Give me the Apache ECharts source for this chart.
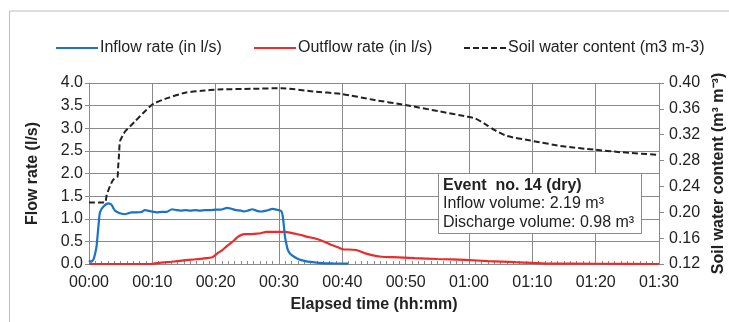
<!DOCTYPE html>
<html><head><meta charset="utf-8">
<script src="https://cdn.jsdelivr.net/npm/echarts@6/dist/echarts.min.js"></script>
<style>html,body{margin:0;padding:0;background:#fff}#c{width:729px;height:322px}</style>
</head><body><div id="c"></div>
<script>
const xTicks = [0,10,20,30,40,50,60,70,80,90];
const inflowTime = [0,0.3,0.7,1.0,1.2,1.5,1.7,2.0,2.3,2.7,3.05,3.3,3.6,3.9,4.1,4.6,5.2,5.7,6.2,6.7,7.5,8.3,8.8,9.3,9.9,10.7,11.5,12.2,13.1,13.8,14.5,15.2,16.0,16.8,17.5,18.3,19.2,20.0,20.8,21.8,22.5,23.2,24.0,24.5,25.1,25.8,26.4,27.1,28.0,29.0,29.6,30.0,30.4,30.6,30.8,30.95,31.2,31.4,31.8,32.5,33.2,34.0,35.0,36.7,38.5,40.9];
const inflowRate = [0.08,0.05,0.1,0.25,0.4,0.85,1.12,1.22,1.27,1.32,1.34,1.33,1.30,1.22,1.18,1.14,1.11,1.10,1.12,1.14,1.14,1.15,1.19,1.18,1.16,1.14,1.15,1.15,1.21,1.19,1.18,1.19,1.18,1.19,1.18,1.19,1.19,1.20,1.20,1.24,1.22,1.19,1.18,1.16,1.18,1.21,1.18,1.16,1.18,1.22,1.20,1.19,1.16,1.05,0.8,0.6,0.42,0.31,0.22,0.15,0.10,0.07,0.045,0.02,0.012,0.01];
const outflowTime = [0,5,9.7,11.3,13,15,16.5,18,19.5,20.0,20.3,21.0,21.8,22.9,23.5,24.5,25.5,26.5,27.1,28.0,29.5,31.0,31.5,32.5,33.5,34.5,35.6,36.7,37.7,38.3,39.3,40.3,41.0,42.2,43.0,43.5,44.5,46.2,48,51.4,55,59.4,63,67.3,70,72.6,80,90];
const outflowRate = [0,0,0,0.03,0.05,0.08,0.10,0.12,0.15,0.2,0.24,0.3,0.40,0.52,0.60,0.66,0.66,0.67,0.68,0.71,0.71,0.71,0.70,0.67,0.64,0.60,0.57,0.52,0.46,0.42,0.37,0.32,0.32,0.31,0.27,0.24,0.2,0.16,0.15,0.13,0.11,0.09,0.065,0.04,0.025,0.01,0.005,0.0];
const soilTime = [0,2.5,2.8,3.3,3.8,4.5,4.6,4.75,4.9,5.7,6.5,7.3,8.8,10.2,12.5,15.2,17.8,20.4,25.7,30.4,35.4,39.9,44.9,49.9,55.4,59.7,61.0,62.8,63.9,66.0,69.7,74.9,79.7,83.9,89.7];
const soilWater = [0.215,0.215,0.227,0.24,0.25,0.255,0.27,0.29,0.31,0.325,0.333,0.341,0.356,0.368,0.377,0.385,0.388,0.390,0.391,0.392,0.387,0.383,0.374,0.366,0.356,0.348,0.345,0.335,0.328,0.318,0.311,0.302,0.297,0.293,0.289];
const leftTicks = [0,0.5,1.0,1.5,2.0,2.5,3.0,3.5,4.0];
const rightTicks = [0.12,0.16,0.20,0.24,0.28,0.32,0.36,0.40];

const zip = (a,b)=>a.map((t,i)=>[t,b[i]]);
const fnt = 'Liberation Sans, Arial, sans-serif';
const grey = '#8a8a8a';
const txt = '#222';
const FS = 16;
const chart = echarts.init(document.getElementById('c'));
const fmt = v => { const m = Math.round(v); return String(Math.floor(m/60)).padStart(2,'0')+':'+String(m%60).padStart(2,'0'); };
const solidIcon = 'path://M0,0h42v2.2h-42z';
const dashIcon = 'path://M0,0h6v2h-6zM9,0h6v2h-6zM18,0h6v2h-6zM27,0h6v2h-6zM36,0h6v2h-6z';
const legendBase = {top:35, itemWidth:42, itemHeight:10, itemGap:0, textStyle:{fontFamily:fnt,fontSize:FS,color:txt,padding:[0,0,0,-3]}};
chart.setOption({
  animation:false,
  textStyle:{fontFamily:fnt},
  legend:[
    Object.assign({}, legendBase, {left:51, data:[{name:'Inflow rate (in l/s)',icon:solidIcon}]}),
    Object.assign({}, legendBase, {left:249, data:[{name:'Outflow rate (in l/s)',icon:solidIcon}]}),
    Object.assign({}, legendBase, {left:459, data:[{name:'Soil water content (m3 m-3)',icon:dashIcon}]})
  ],
  grid:{left:89,right:70,top:83,bottom:58,outerBoundsMode:'none',containLabel:false},
  xAxis:{type:'value',min:xTicks[0],max:xTicks[xTicks.length-1],interval:10,
    name:'Elapsed time (hh:mm)',nameLocation:'middle',nameGap:33,
    nameTextStyle:{fontFamily:fnt,fontSize:FS,fontWeight:'bold',color:txt},
    axisLine:{show:true,lineStyle:{color:grey}},
    axisTick:{show:true,inside:true,length:4,lineStyle:{color:grey}},
    minorTick:{show:true,splitNumber:10,length:3,lineStyle:{color:grey}},
    axisLabel:{fontFamily:fnt,fontSize:FS,color:txt,margin:11,formatter:fmt},
    splitLine:{show:true,lineStyle:{color:grey,width:1}}},
  yAxis:[
    {type:'value',min:leftTicks[0],max:leftTicks[leftTicks.length-1],interval:0.5,
     name:'Flow rate (l/s)',nameLocation:'middle',nameGap:48,
     nameTextStyle:{fontFamily:fnt,fontSize:FS,fontWeight:'bold',color:txt},
     axisLine:{show:true,lineStyle:{color:grey}},
     axisTick:{show:true,length:4,lineStyle:{color:grey}},
     axisLabel:{fontFamily:fnt,fontSize:FS,color:txt,margin:6,formatter:v=>v.toFixed(1)},
     splitLine:{show:true,lineStyle:{color:grey,width:1}}},
    {type:'value',min:rightTicks[0],max:rightTicks[rightTicks.length-1],interval:0.04,
     name:'Soil water content (m³ m⁻³)',nameLocation:'middle',nameGap:51,nameRotate:90,
     nameTextStyle:{fontFamily:fnt,fontSize:FS,fontWeight:'bold',color:txt},
     axisLine:{show:true,lineStyle:{color:grey}},
     axisTick:{show:true,length:5,lineStyle:{color:grey}},
     axisLabel:{fontFamily:fnt,fontSize:FS,color:txt,margin:10,formatter:v=>v.toFixed(2)},
     splitLine:{show:false}}
  ],
  series:[
    {name:'Inflow rate (in l/s)',type:'line',yAxisIndex:0,data:zip(inflowTime,inflowRate),symbol:'none',smooth:0.2,
     lineStyle:{color:'#1a73c5',width:2.2},itemStyle:{color:'#1a73c5'},z:3},
    {name:'Outflow rate (in l/s)',type:'line',yAxisIndex:0,data:zip(outflowTime,outflowRate),symbol:'none',smooth:0.2,
     lineStyle:{color:'#ee2a2a',width:2.2},itemStyle:{color:'#ee2a2a'},z:2},
    {name:'Soil water content (m3 m-3)',type:'line',yAxisIndex:1,data:zip(soilTime,soilWater),symbol:'none',smooth:0.2,
     lineStyle:{color:'#222',width:2,type:[6,3]},itemStyle:{color:'#222'},z:4}
  ],
  graphic:[
    {type:'rect',left:7,top:8.5,shape:{width:800,height:400},style:{fill:'none',stroke:'#bdbdbd',lineWidth:1},z:0,silent:true},
    {type:'rect',left:438,top:173,shape:{width:203,height:60},style:{fill:'#fff',stroke:grey,lineWidth:1},z:10},
    {type:'text',left:443,top:176,z:11,style:{
      text:'{b|Event  no. 14 (dry)}\nInflow volume: 2.19 m³\nDischarge volume: 0.98 m³',
      font:FS+'px '+fnt,fill:txt,lineHeight:18.5,
      rich:{b:{fontWeight:'bold',fontSize:FS,fontFamily:fnt,fill:txt,lineHeight:18.5}}}}
  ]
});
</script></body></html>
